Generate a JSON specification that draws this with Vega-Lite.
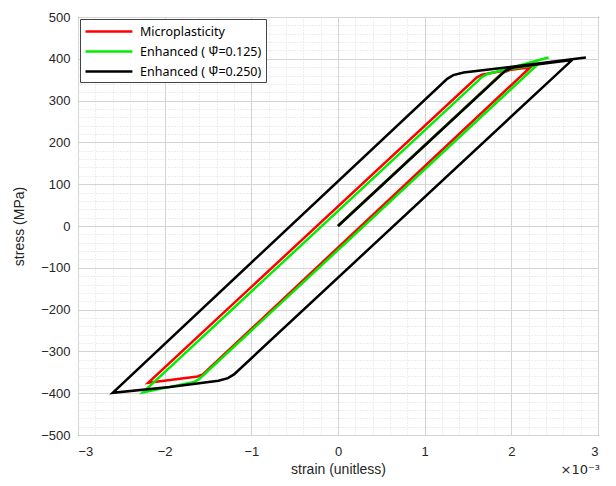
{
  "$schema": "https://vega.github.io/schema/vega-lite/v6.json",
  "width": 520,
  "height": 418,
  "autosize": {"type": "none"},
  "padding": {"left": 78, "top": 17, "right": 18, "bottom": 51},
  "background": "white",
  "config": {
    "view": {"stroke": "#262626", "strokeWidth": 1},
    "axis": {"labelFont": "Liberation Sans", "titleFont": "Liberation Sans", "labelFontSize": 13, "titleFontSize": 14, "titleFontWeight": "normal", "labelColor": "#262626", "titleColor": "#262626"}
  },
  "data": {
    "values": [
      {"model": "Microplasticity", "i": 0, "x": 0, "y": 0},
      {"model": "Microplasticity", "i": 1, "x": 1.90, "y": 367},
      {"model": "Microplasticity", "i": 2, "x": 2.00, "y": 374},
      {"model": "Microplasticity", "i": 3, "x": 2.22, "y": 380},
      {"model": "Microplasticity", "i": 4, "x": -1.56, "y": -355},
      {"model": "Microplasticity", "i": 5, "x": -1.62, "y": -360},
      {"model": "Microplasticity", "i": 6, "x": -2.19, "y": -375},
      {"model": "Microplasticity", "i": 7, "x": 1.60, "y": 355},
      {"model": "Microplasticity", "i": 8, "x": 1.66, "y": 362},
      {"model": "Microplasticity", "i": 9, "x": 2.27, "y": 385},
      {"model": "Enhanced ( Ψ̃=0.125)", "i": 0, "x": 0, "y": 0},
      {"model": "Enhanced ( Ψ̃=0.125)", "i": 1, "x": 1.92, "y": 370},
      {"model": "Enhanced ( Ψ̃=0.125)", "i": 2, "x": 2.00, "y": 376},
      {"model": "Enhanced ( Ψ̃=0.125)", "i": 3, "x": 2.30, "y": 386},
      {"model": "Enhanced ( Ψ̃=0.125)", "i": 4, "x": -1.60, "y": -366},
      {"model": "Enhanced ( Ψ̃=0.125)", "i": 5, "x": -1.66, "y": -373},
      {"model": "Enhanced ( Ψ̃=0.125)", "i": 6, "x": -2.25, "y": -398},
      {"model": "Enhanced ( Ψ̃=0.125)", "i": 7, "x": 1.66, "y": 356},
      {"model": "Enhanced ( Ψ̃=0.125)", "i": 8, "x": 1.72, "y": 363},
      {"model": "Enhanced ( Ψ̃=0.125)", "i": 9, "x": 2.43, "y": 403},
      {"model": "Enhanced ( Ψ̃=0.250)", "i": 0, "x": 0, "y": 0},
      {"model": "Enhanced ( Ψ̃=0.250)", "i": 1, "x": 1.93, "y": 371},
      {"model": "Enhanced ( Ψ̃=0.250)", "i": 2, "x": 2.02, "y": 379},
      {"model": "Enhanced ( Ψ̃=0.250)", "i": 3, "x": 2.70, "y": 397},
      {"model": "Enhanced ( Ψ̃=0.250)", "i": 4, "x": -1.20, "y": -355},
      {"model": "Enhanced ( Ψ̃=0.250)", "i": 5, "x": -1.27, "y": -364},
      {"model": "Enhanced ( Ψ̃=0.250)", "i": 6, "x": -1.38, "y": -370},
      {"model": "Enhanced ( Ψ̃=0.250)", "i": 7, "x": -1.94, "y": -385},
      {"model": "Enhanced ( Ψ̃=0.250)", "i": 8, "x": -2.60, "y": -399},
      {"model": "Enhanced ( Ψ̃=0.250)", "i": 9, "x": 1.26, "y": 352},
      {"model": "Enhanced ( Ψ̃=0.250)", "i": 10, "x": 1.33, "y": 361},
      {"model": "Enhanced ( Ψ̃=0.250)", "i": 11, "x": 1.45, "y": 367},
      {"model": "Enhanced ( Ψ̃=0.250)", "i": 12, "x": 2.86, "y": 403}
    ]
  },
  "layer": [
    {
      "mark": {"type": "point", "opacity": 0},
      "encoding": {
        "x": {"field": "x", "type": "quantitative", "scale": {"domain": [-3, 3], "nice": false, "zero": false},
          "axis": {"orient": "top", "values": [-2.8,-2.6,-2.4,-2.2,-1.8,-1.6,-1.4,-1.2,-0.8,-0.6,-0.4,-0.2,0.2,0.4,0.6,0.8,1.2,1.4,1.6,1.8,2.2,2.4,2.6,2.8], "grid": true, "gridDash": [1, 2], "gridColor": "#dcdcdc", "labels": false, "ticks": false, "domain": false, "title": null}},
        "y": {"field": "y", "type": "quantitative", "scale": {"domain": [-500, 500], "nice": false, "zero": false},
          "axis": {"orient": "right", "values": [-480,-460,-440,-420,-380,-360,-340,-320,-280,-260,-240,-220,-180,-160,-140,-120,-80,-60,-40,-20,20,40,60,80,120,140,160,180,220,240,260,280,320,340,360,380,420,440,460,480], "grid": true, "gridDash": [1, 2], "gridColor": "#dcdcdc", "labels": false, "ticks": false, "domain": false, "title": null}}
      }
    },
    {
      "mark": {"type": "line", "strokeWidth": 2.5},
      "encoding": {
        "x": {"field": "x", "type": "quantitative", "scale": {"domain": [-3, 3], "nice": false, "zero": false},
          "axis": {"orient": "bottom", "values": [-3,-2,-1,0,1,2,3], "grid": true, "gridColor": "#d4d4d4", "domain": false, "ticks": false, "labelPadding": 10, "title": "strain (unitless)", "titlePadding": 4}},
        "y": {"field": "y", "type": "quantitative", "scale": {"domain": [-500, 500], "nice": false, "zero": false},
          "axis": {"orient": "left", "values": [-500,-400,-300,-200,-100,0,100,200,300,400,500], "grid": true, "gridColor": "#d4d4d4", "domain": false, "ticks": false, "labelPadding": 8, "title": "stress (MPa)", "titlePadding": 14}},
        "color": {"field": "model", "type": "nominal",
          "scale": {"domain": ["Microplasticity", "Enhanced ( Ψ̃=0.125)", "Enhanced ( Ψ̃=0.250)"], "range": ["#ff0000", "#00ee00", "#000000"]},
          "legend": {"title": null, "orient": "top-left", "offset": 2, "symbolType": "M-1,0H5.7", "symbolSize": 196, "symbolStrokeWidth": 2.5, "symbolFillColor": "transparent", "labelFontSize": 12.5, "labelFont": "Noto Sans", "labelColor": "#000000", "fillColor": "white", "strokeColor": "#444444", "padding": 4, "rowPadding": 5, "labelOffset": 39, "labelLimit": 300}},
        "order": {"field": "i", "type": "quantitative"}
      }
    },
    {
      "data": {"values": [{"note": "×10⁻³"}]},
      "mark": {"type": "text", "align": "right", "baseline": "middle", "dy": 35, "dx": 2, "fontSize": 13, "font": "DejaVu Sans", "color": "#262626"},
      "encoding": {
        "x": {"datum": 3, "type": "quantitative", "axis": null},
        "y": {"datum": -500, "type": "quantitative", "axis": null},
        "text": {"field": "note", "type": "nominal"}
      }
    }
  ],
  "resolve": {"axis": {"x": "independent", "y": "independent"}}
}
